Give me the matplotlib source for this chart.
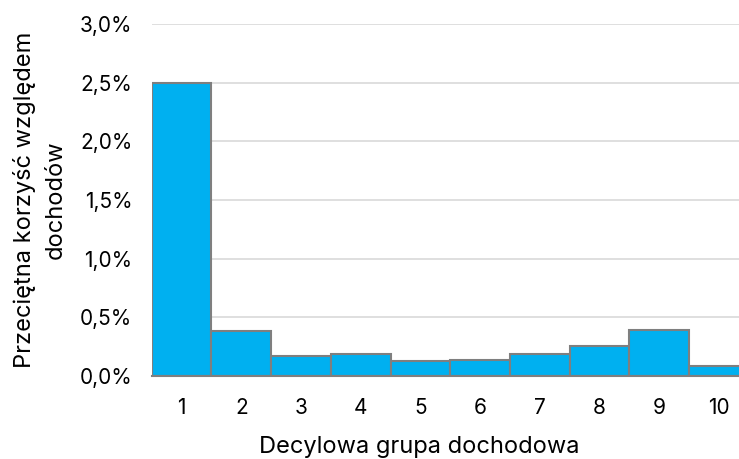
import numpy as np
import matplotlib.pyplot as plt
from matplotlib.ticker import FuncFormatter

# average benefit relative to income, by income decile (in %)
decyle = ["1", "2", "3", "4", "5", "6", "7", "8", "9", "10"]
korzysc = [2.50, 0.38, 0.17, 0.19, 0.13, 0.135, 0.185, 0.255, 0.395, 0.085]

plt.rcParams["font.family"] = ["Inter", "DejaVu Sans"]

fig = plt.figure(figsize=(7.39, 4.59), dpi=100)
ax = fig.add_axes([0.2053, 0.181, 0.808, 0.767])

x = np.arange(len(decyle))
ax.bar(x, korzysc, width=1.0, color="#00B0F0", edgecolor="#7F7F7F",
       linewidth=1.5, zorder=3)

ax.set_xlim(-0.5, 9.5)
ax.set_ylim(0, 3.0)
ax.set_yticks(np.arange(0, 3.01, 0.5))
ax.yaxis.set_major_formatter(FuncFormatter(lambda v, p: f"{v:.1f}%".replace(".", ",")))
ax.set_xticks(x)
ax.set_xticklabels(decyle)

ax.grid(axis="y", color="#D9D9D9", linewidth=1.2, zorder=0)
for side in ["top", "right", "left"]:
    ax.spines[side].set_visible(False)
ax.spines["bottom"].set_color("#7F7F7F")
ax.spines["bottom"].set_linewidth(1.5)
ax.spines["bottom"].set_zorder(4)

ax.tick_params(axis="both", length=0, labelsize=15, colors="#000000")
ax.tick_params(axis="y", pad=14)
ax.tick_params(axis="x", pad=16)

ax.set_xlabel("Decylowa grupa dochodowa", fontsize=17)
ax.xaxis.set_label_coords(0.448, -0.172)
ax.set_ylabel("Przeciętna korzyść względem\ndochodów", fontsize=17,
              labelpad=9, linespacing=1.55)

fig.savefig("out.png", dpi=100)
